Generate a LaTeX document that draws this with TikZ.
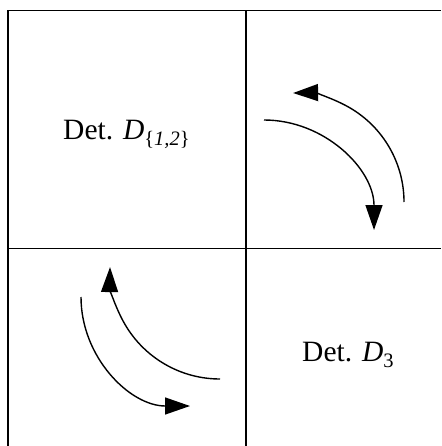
\documentclass[tikz,border=0pt]{standalone}
\usepackage{fontspec}
\setmainfont{Liberation Serif}
\usetikzlibrary{arrows.meta}
\begin{document}
\begin{tikzpicture}[x=1pt,y=-1pt,
  gridline/.style={line width=1.5pt},
  flow/.style={line width=1.4pt,-{Triangle[length=25pt,width=17pt]}},
  lbl/.style={anchor=base west,inner sep=0pt,font=\fontsize{29.5}{32}\selectfont}]
\useasboundingbox (0,0) rectangle (441,446);
% grid
\coordinate (tl) at (8,10.5);
\coordinate (tr) at (441,10.5);
\coordinate (bl) at (8,446);
\coordinate (tm) at (246,10.5);
\coordinate (bm) at (246,446);
\coordinate (ml) at (8,248.7);
\coordinate (mr) at (441,248.7);
\draw[gridline] (bl) -- (tl) -- (tr);
\draw[gridline] (tm) -- (bm);
\draw[gridline] (ml) -- (mr);
% labels
\node[lbl] (d12) at (63,139.5) {Det. \textit{D}\raisebox{-0.22em}{\fontsize{20.5}{20}\selectfont\{\textit{1,2}\}}};
\node[lbl] (d3) at (302,361) {Det. \textit{D}\raisebox{-0.22em}{\fontsize{20.5}{20}\selectfont 3}};
% arrows top-right
\coordinate (a1) at (264,120);
\coordinate (a2) at (404,202);
\draw[flow] (a1) arc[start angle=-90,end angle=0,radius=110];
\draw[flow] (a2) arc[start angle=0,end angle=-91,radius=109];
% arrows bottom-left
\coordinate (b1) at (81,297);
\coordinate (b2) at (220,379);
\draw[flow] (b1) arc[start angle=180,end angle=90,radius=109];
\draw[flow] (b2) arc[start angle=90,end angle=181,radius=110];
\end{tikzpicture}
\end{document}
